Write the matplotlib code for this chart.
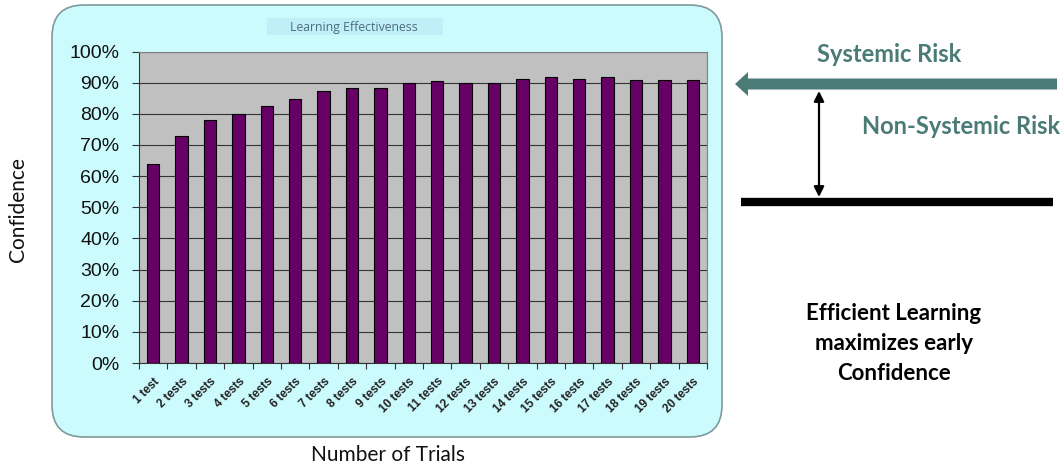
import matplotlib
matplotlib.use("Agg")
import matplotlib.pyplot as plt
from matplotlib.patches import FancyBboxPatch, Rectangle, FancyArrow, FancyArrowPatch
import numpy as np

# ---- data ----
trials = ["1 test"] + [f"{i} tests" for i in range(2, 21)]
confidence = [64.0, 72.8, 77.9, 79.9, 82.4, 84.9, 87.4, 88.3, 88.3, 90.0,
              90.4, 90.0, 90.0, 91.2, 91.7, 91.2, 91.7, 90.8, 90.8, 90.8]
y_ticks = list(range(0, 101, 10))
chart_title = "Learning Effectiveness"
x_label = "Number of Trials"
y_label = "Confidence"

W, H = 1064, 467
fig = plt.figure(figsize=(W / 100, H / 100), dpi=100)
fig.patch.set_facecolor("white")

def px(x, y):
    return x / W, 1 - y / H

# rounded light-cyan chart box
box = FancyBboxPatch((52 / W, 1 - 437 / H), 670 / W, 432 / H,
                     boxstyle="round,pad=0,rounding_size=0.03",
                     transform=fig.transFigure, facecolor="#ccfbfd",
                     edgecolor="#7f9a9a", linewidth=1.2, mutation_aspect=W / H,
                     zorder=-2)
fig.patches.append(box)

# title box
tb = Rectangle((267 / W, 1 - 35 / H), 176 / W, 17 / H, transform=fig.transFigure,
               facecolor="#bff0f8", edgecolor="none", zorder=-1)
fig.patches.append(tb)
fig.text(*px(354, 27), chart_title, ha="center", va="center", fontsize=8.8,
         color="#4f6b80", family="Open Sans")

# axes
ax = fig.add_axes([139 / W, 1 - 363 / H, 568 / W, 311.5 / H])
ax.set_zorder(1)
ax.set_facecolor("#c0c0c0")
x = np.arange(len(trials))
ax.bar(x, confidence, width=0.43, color="#660066", edgecolor="black",
       linewidth=0.8, zorder=3)
ax.set_xlim(-0.5, len(trials) - 0.5)
ax.set_ylim(0, 100)
ax.set_yticks(y_ticks)
ax.set_yticklabels([f"{v}%" for v in y_ticks], fontsize=14,
                   family="Liberation Sans", color="#111111")
ax.yaxis.grid(True, color="#333333", linewidth=0.8, zorder=1)
ax.set_axisbelow(True)
ax.tick_params(axis="y", length=5, width=0.8, color="#333333", pad=9)
ax.set_xticks(x)
ax.set_xticklabels(trials, rotation=45, ha="right", rotation_mode="anchor",
                   fontsize=8.5, fontweight="bold", family="Liberation Sans",
                   color="#222222")
ax.tick_params(axis="x", length=0, pad=9)
ax.set_xticks(np.arange(-0.5, len(trials), 1), minor=True)
ax.tick_params(axis="x", which="minor", length=4, width=0.8, color="#333333")
for s in ["top", "right"]:
    ax.spines[s].set_color("#808080")
ax.spines["left"].set_color("#333333")
ax.spines["bottom"].set_color("#333333")

# outer labels
fig.text(*px(18, 210), y_label, rotation=90, ha="center", va="center",
         fontsize=15, family="Lato", color="#111111")
fig.text(*px(388, 455), x_label, ha="center", va="center",
         fontsize=15, family="Lato", color="#111111")

# right-side diagram
teal = "#4a7b76"
fig.text(*px(889, 54), "Systemic Risk", ha="center", va="center",
         fontsize=17, fontweight="bold", family="Lato", color=teal)
fig.text(*px(961, 127), "Non-Systemic Risk", ha="center", va="center",
         fontsize=17, fontweight="bold", family="Lato", color=teal)

arr = FancyArrow(1057 / W, 1 - 84 / H, -(1057 - 735) / W, 0,
                 width=11 / H, head_width=24 / H, head_length=13 / W,
                 length_includes_head=True, transform=fig.transFigure,
                 color=teal, linewidth=0)
fig.patches.append(arr)

fig.add_artist(plt.Line2D([741 / W, 1053 / W], [1 - 202 / H, 1 - 202 / H],
                          transform=fig.transFigure, color="black", linewidth=6,
                          solid_capstyle="butt"))
fig.add_artist(FancyArrowPatch(
    px(819, 91), px(819, 197), transform=fig.transFigure,
    arrowstyle="<|-|>,head_length=6,head_width=3", color="black",
    linewidth=1.6, shrinkA=0, shrinkB=0))

for txt, yy in [("Efficient Learning", 313), ("maximizes early", 344),
                ("Confidence", 374)]:
    fig.text(*px(894, yy), txt, ha="center", va="center", fontsize=16,
             fontweight="bold", family="Lato", color="black")

fig.savefig("out.png", dpi=100)
